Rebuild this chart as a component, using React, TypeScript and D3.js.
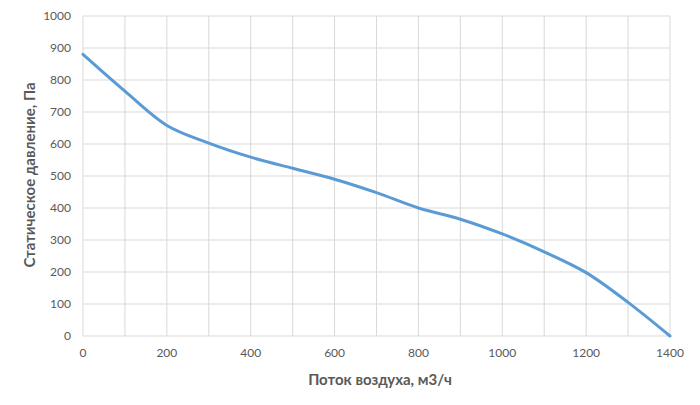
import React from "react";
import * as d3 from "d3";

const flow = [0, 100, 200, 300, 400, 500, 600, 700, 800, 900, 1000, 1100, 1200, 1300, 1400];
const pressure = [880, 765, 658, 603, 559, 524, 490, 448, 400, 365, 319, 263, 198, 105, 0];
const xTicks = [0, 200, 400, 600, 800, 1000, 1200, 1400];
const xGrid = [0, 100, 200, 300, 400, 500, 600, 700, 800, 900, 1000, 1100, 1200, 1300, 1400];
const yTicks = [0, 100, 200, 300, 400, 500, 600, 700, 800, 900, 1000];
const xTitle = "Поток воздуха, м3/ч";
const yTitle = "Статическое давление, Па";

const W = 700;
const H = 405;
const left = 83;
const right = 670;
const top = 16;
const bottom = 336;

export default function App() {
  const x = d3.scaleLinear().domain([0, 1400]).range([left, right]);
  const y = d3.scaleLinear().domain([0, 1000]).range([bottom, top]);
  const line = d3
    .line<number>()
    .x((_, i) => x(flow[i]))
    .y((d) => y(d))
    .curve(d3.curveCatmullRom.alpha(0.5));
  const font = "Lato, 'Open Sans', sans-serif";
  const textColor = "#595959";
  return (
    <svg width={W} height={H} style={{ position: "absolute", left: 0, top: 0, background: "#fff" }}>
      <rect x={0} y={0} width={W} height={H} fill="#fff" />
      {xGrid.map((v) => (
        <line key={"gx" + v} x1={x(v)} x2={x(v)} y1={top} y2={bottom} stroke="#d9d9d9" strokeWidth={1} />
      ))}
      {yTicks.map((v) => (
        <line key={"gy" + v} x1={left} x2={right} y1={y(v)} y2={y(v)} stroke="#d9d9d9" strokeWidth={1} />
      ))}
      <path d={line(pressure) || ""} fill="none" stroke="#5B9BD5" strokeWidth={3} strokeLinecap="round" strokeLinejoin="round" />
      {yTicks.map((v) => (
        <text key={"ty" + v} x={71} y={y(v)} dy="0.35em" textAnchor="end" fontFamily={font} fontSize={12} fill={textColor}>
          {v}
        </text>
      ))}
      {xTicks.map((v) => (
        <text key={"tx" + v} x={x(v)} y={357} textAnchor="middle" fontFamily={font} fontSize={12} fill={textColor}>
          {v}
        </text>
      ))}
      <text x={380} y={385} textAnchor="middle" fontFamily={font} fontSize={15} fontWeight="bold" fill={textColor}>
        {xTitle}
      </text>
      <text
        transform={`translate(35, 175) rotate(-90)`}
        textAnchor="middle"
        fontFamily={font}
        fontSize={15}
        fontWeight="bold"
        fill={textColor}
      >
        {yTitle}
      </text>
    </svg>
  );
}
